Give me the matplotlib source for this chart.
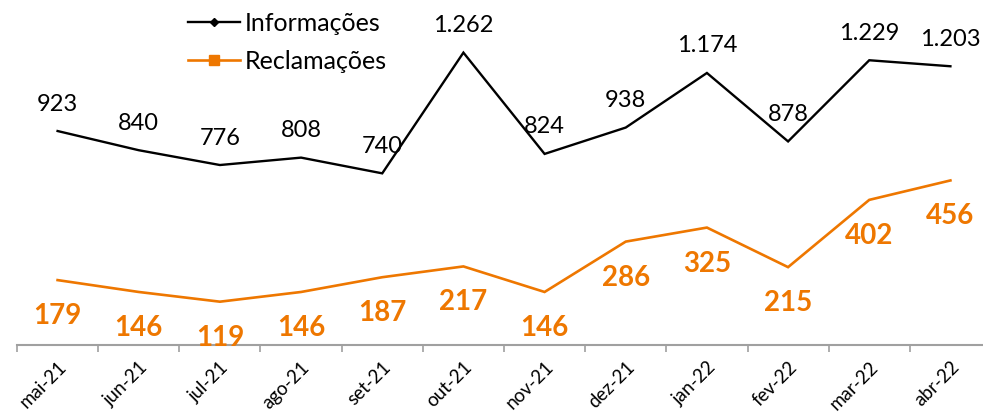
import matplotlib
matplotlib.use("Agg")
import matplotlib.pyplot as plt
from matplotlib.lines import Line2D
import numpy as np

months = ["mai-21", "jun-21", "jul-21", "ago-21", "set-21", "out-21",
          "nov-21", "dez-21", "jan-22", "fev-22", "mar-22", "abr-22"]
informacoes = [923, 840, 776, 808, 740, 1262, 824, 938, 1174, 878, 1229, 1203]
reclamacoes = [179, 146, 119, 146, 187, 217, 146, 286, 325, 215, 402, 456]

plt.rcParams['font.family'] = ['Lato', 'DejaVu Sans']

BLACK = "#000000"
ORANGE = "#EE7700"
GREY = "#A0A0A0"

fig = plt.figure(figsize=(9.83, 4.13), dpi=100)
ax = fig.add_axes([17/983, 1 - 344.5/413, 974/983, (344.5 - 20.7)/413])
ax2 = ax.twinx()

x = np.arange(len(months))
ax.plot(x, informacoes, color=BLACK, lw=1.7, solid_joinstyle='miter')
ax2.plot(x, reclamacoes, color=ORANGE, lw=1.9, solid_joinstyle='miter')

ax.set_ylim(0, 1400)
ax2.set_ylim(0, 900)
ax.set_xlim(-0.5, len(months) - 0.5)

def fmt(v):
    return f"{v:,}".replace(",", ".")

for xi, v in zip(x, informacoes):
    ax.annotate(fmt(v), (xi, v), xytext=(0, 27), textcoords='offset pixels',
                ha='center', va='center', fontsize=17, color=BLACK)

for xi, v in zip(x, reclamacoes):
    ax2.annotate(fmt(v), (xi, v), xytext=(0, -36), textcoords='offset pixels',
                 ha='center', va='center', fontsize=20, fontweight='bold', color=ORANGE)

for a in (ax, ax2):
    for s in ('top', 'left', 'right'):
        a.spines[s].set_visible(False)
    a.set_yticks([])
ax2.spines['bottom'].set_visible(False)
ax.spines['bottom'].set_color(GREY)
ax.spines['bottom'].set_linewidth(1.5)

ax.set_xticks(np.arange(-0.5, len(months), 1))
ax.set_xticklabels([])
ax.tick_params(axis='x', which='major', direction='out', length=5, width=1.2, color=GREY)
ax.set_xticks(x, minor=True)
ax.set_xticklabels(months, minor=True, rotation=45, ha='right', va='top',
                   rotation_mode='anchor', fontsize=13.5)
ax.tick_params(axis='x', which='minor', length=0, pad=10)

handles = [
    Line2D([], [], color=BLACK, lw=1.7, marker='D', markersize=4),
    Line2D([], [], color=ORANGE, lw=1.9, marker='s', markersize=7),
]
fig.legend(handles, ["Informações", "Reclamações"], loc='upper left',
           bbox_to_anchor=(165/983, 1.025), frameon=False, fontsize=18,
           handlelength=2.1, handletextpad=0.2, labelspacing=0.6)

fig.savefig("out.png", dpi=100)
